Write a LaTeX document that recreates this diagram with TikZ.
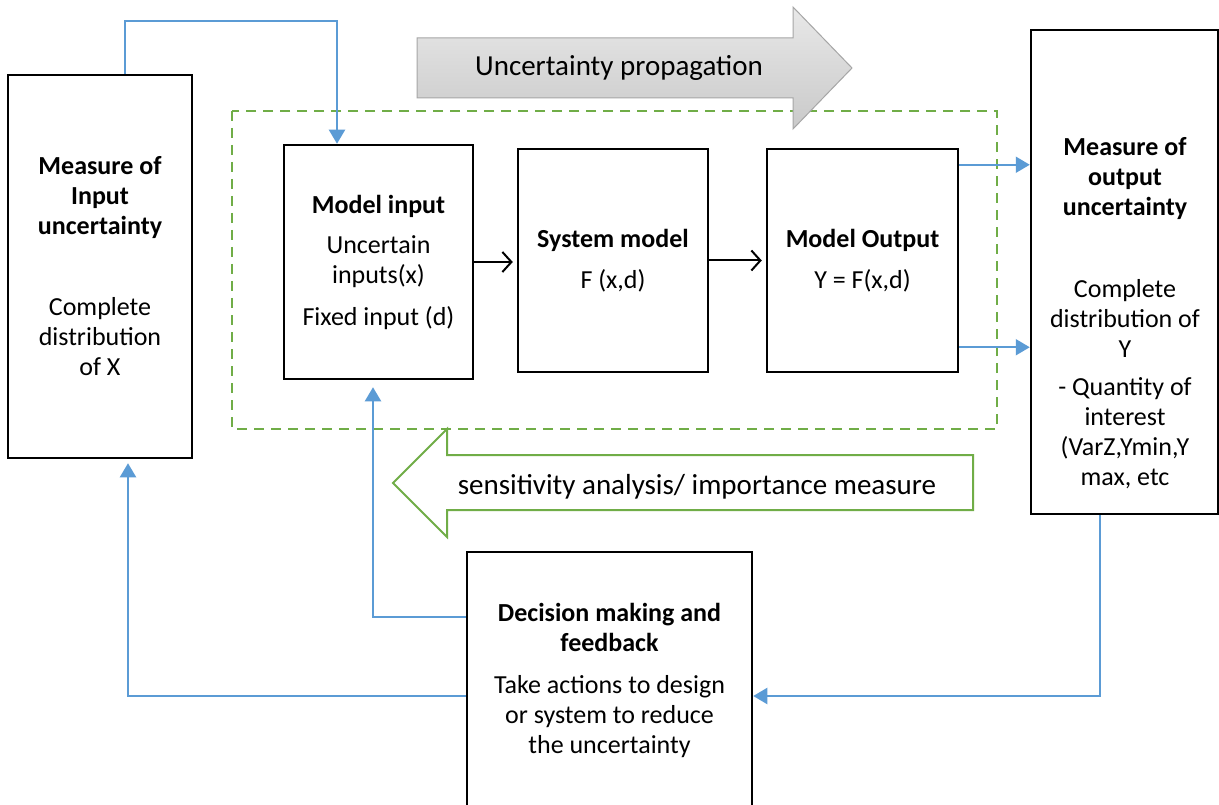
\documentclass[tikz,border=0pt]{standalone}
\usepackage{fontspec}
\setmainfont{Carlito}
\usetikzlibrary{arrows.meta,positioning,calc}
\definecolor{flowblue}{RGB}{91,155,213}
\definecolor{sagreen}{RGB}{112,173,71}

\begin{document}
\begin{tikzpicture}[x=1pt,y=-1pt,
  box/.style={draw=black,line width=2.5pt,fill=white,inner sep=0pt,align=center,font=\fontsize{26}{30}\selectfont},
  boxtext/.style={align=center,inner sep=0pt,font=\fontsize{26}{30}\selectfont},
  bigtext/.style={inner sep=0pt,font=\fontsize{29}{34}\selectfont},
  link/.style={draw=black,line width=2pt,-{Straight Barb[length=9pt,width=20pt]}},
  flow/.style={draw=flowblue,line width=2pt,-{Triangle[length=14pt,width=16pt]}}]
			\clip (0,0) rectangle (1219,805);
			\fill[white] (0,0) rectangle (1219,805);

			\draw[sagreen,line width=2pt,dash pattern=on 10pt off 7pt] (232,111) rectangle (997,429);

			\draw[draw=gray!70,top color=gray!18,bottom color=gray!42,line width=1pt]
				(417,38) -- (793,38) -- (793,7) -- (852,68) -- (793,129) -- (793,98) -- (417,98) -- cycle;
			\node[bigtext] (prop) at (619,68) {Uncertainty propagation};

			\draw[sagreen,fill=white,line width=2pt]
				(973,455) -- (447,455) -- (447,429) -- (393,483) -- (447,537) -- (447,510) -- (973,510) -- cycle;
			\node[bigtext] (sens) at (697,487) {sensitivity analysis/ importance measure};

			\node[box,minimum width=184,minimum height=383] (xbox) at (100,266.5)
				{\textbf{Measure of}\\\textbf{Input}\\\textbf{uncertainty}\\[51pt]Complete\\distribution\\of X};
			\node[box,minimum width=189,minimum height=234] (minput) at (378.5,262)
				{\textbf{Model input}\\[10pt]Uncertain\\inputs(x)\\[12pt]Fixed input (d)};
			\node[box,minimum width=190,minimum height=223] (sysmod) at (613,260.5)
				{\textbf{System model}\\[11pt]F (x,d)};
			\node[box,minimum width=191,minimum height=223] (moutput) at (862.5,260.5)
				{\textbf{Model Output}\\[11pt]Y = F(x,d)};
			\node[box,minimum width=187,minimum height=484] (ybox) at (1124.5,272) {};
			\node[boxtext] (ytext) at (1125,313)
				{\textbf{Measure of}\\\textbf{output}\\\textbf{uncertainty}\\[52pt]Complete\\distribution of\\Y\\[8pt]- Quantity of\\interest\\(VarZ,Ymin,Y\\max, etc};
			\node[box,minimum width=285,minimum height=256] (decide) at (609.5,680)
				{\textbf{Decision making and}\\\textbf{feedback}\\[12pt]Take actions to design\\or system to reduce\\the uncertainty};

			\draw[link,shorten >=4pt] (minput.east) -- (minput.east -| sysmod.west);
			\draw[link,shorten >=4pt] (sysmod.east) -- (sysmod.east -| moutput.west);

			\coordinate (o1) at ([yshift=-17pt]moutput.north east);
			\coordinate (o2) at ([yshift=26pt]moutput.south east);
			\draw[flow] (o1) -- (o1 -| ybox.west);
			\draw[flow] (o2) -- (o2 -| ybox.west);

			\draw[flow] ([xshift=25pt]xbox.north) -- ++(0,-53) -| ([xshift=-41.5pt]minput.north);

			\coordinate (d1) at ([yshift=63pt]decide.west);
			\coordinate (d2) at ([yshift=-16pt]decide.west);
			\draw[flow,shorten >=7pt] (d1) -| ([xshift=-5.5pt]minput.south);
			\draw[flow,shorten >=4pt] (d2) -| ([xshift=28pt]xbox.south);

			\coordinate (y1) at ([xshift=-24.5pt]ybox.south);
			\draw[flow] (y1) |- ([yshift=-16pt]decide.east);
\end{tikzpicture}
\end{document}
